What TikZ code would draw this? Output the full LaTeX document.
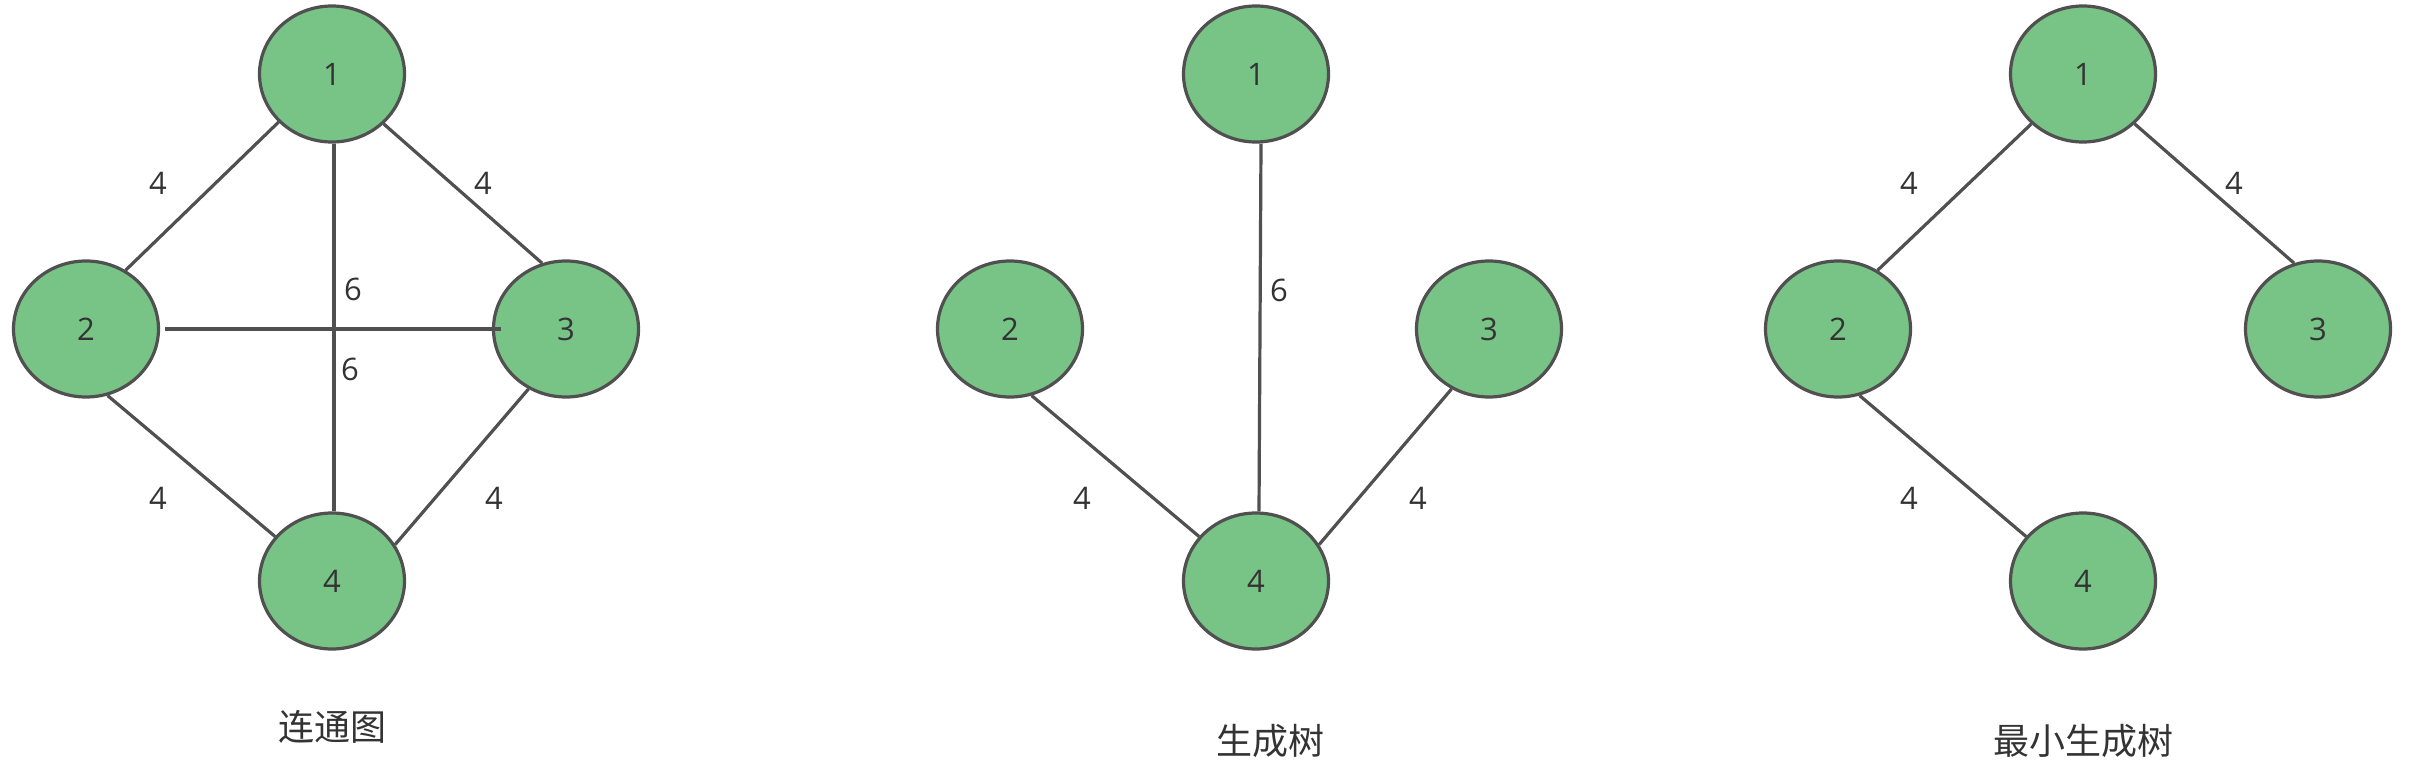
\documentclass[tikz,border=0pt]{standalone}
\usetikzlibrary{shapes.geometric}
\usepackage{fontspec}
\setmainfont{Open Sans}
\newfontfamily\cjk{Noto Sans CJK SC}
\definecolor{nodefill}{HTML}{78C386}
\definecolor{nodeline}{HTML}{505050}
\definecolor{txt}{HTML}{333333}
\begin{document}
\begin{tikzpicture}[x=1pt,y=-1pt,
  vtx/.style={ellipse,draw=nodeline,fill=nodefill,line width=3.2pt,minimum width=145pt,minimum height=136pt,inner sep=0pt,text=txt,font=\fontsize{31}{31}\selectfont},
  edge/.style={draw=nodeline,line width=3.2pt},
  wt/.style={text=txt,font=\fontsize{31}{31}\selectfont,inner sep=0pt},
  gtitle/.style={text=txt,font=\cjk\fontsize{36}{36}\selectfont,inner sep=0pt}]
\useasboundingbox (0,0) rectangle (2410,784);
% graph 1
\node[vtx] (a1) at (332,74) {1};
\node[vtx] (a2) at (86,329) {2};
\node[vtx] (a3) at (566,329) {3};
\node[vtx] (a4) at (332,581) {4};
\draw[edge] (a1.222) -- (a2.56);
\draw[edge] (a1.316) -- (a3.110);
\draw[edge] ([xshift=2pt]a1.south) -- ([xshift=2pt]a4.north);
\draw[edge] ([xshift=5pt]a2.east) -- ([xshift=9pt]a3.west);
\draw[edge] (a2.288) -- (a4.142);
\draw[edge] (a3.238) -- (a4.30);
\node[wt] (w12) at (158,183) {4};
\node[wt] (w13) at (483,183) {4};
\node[wt] (w23) at (353,289) {6};
\node[wt] (w14) at (350,369) {6};
\node[wt] (w24) at (158,498) {4};
\node[wt] (w34) at (494,498) {4};
\node[gtitle] (ca) at (332,727) {连通图};
% graph 2
\node[vtx] (b1) at (1256,74) {1};
\node[vtx] (b2) at (1010,329) {2};
\node[vtx] (b3) at (1489,329) {3};
\node[vtx] (b4) at (1256,581) {4};
\draw[edge] ([xshift=5pt]b1.south) -- ([xshift=3pt]b4.north);
\draw[edge] (b2.288) -- (b4.142);
\draw[edge] (b3.238) -- (b4.30);
\node[wt] (v14) at (1279,290) {6};
\node[wt] (v24) at (1082,498) {4};
\node[wt] (v34) at (1418,498) {4};
\node[gtitle] (cb) at (1270,741) {生成树};
% graph 3
\node[vtx] (c1) at (2083,74) {1};
\node[vtx] (c2) at (1838,329) {2};
\node[vtx] (c3) at (2318,329) {3};
\node[vtx] (c4) at (2083,581) {4};
\draw[edge] (c1.224) -- (c2.56);
\draw[edge] (c1.316) -- (c3.110);
\draw[edge] (c2.288) -- (c4.142);
\node[wt] (u12) at (1909,183) {4};
\node[wt] (u13) at (2234,183) {4};
\node[wt] (u24) at (1909,498) {4};
\node[gtitle] (cc) at (2083,741) {最小生成树};
\end{tikzpicture}
\end{document}
